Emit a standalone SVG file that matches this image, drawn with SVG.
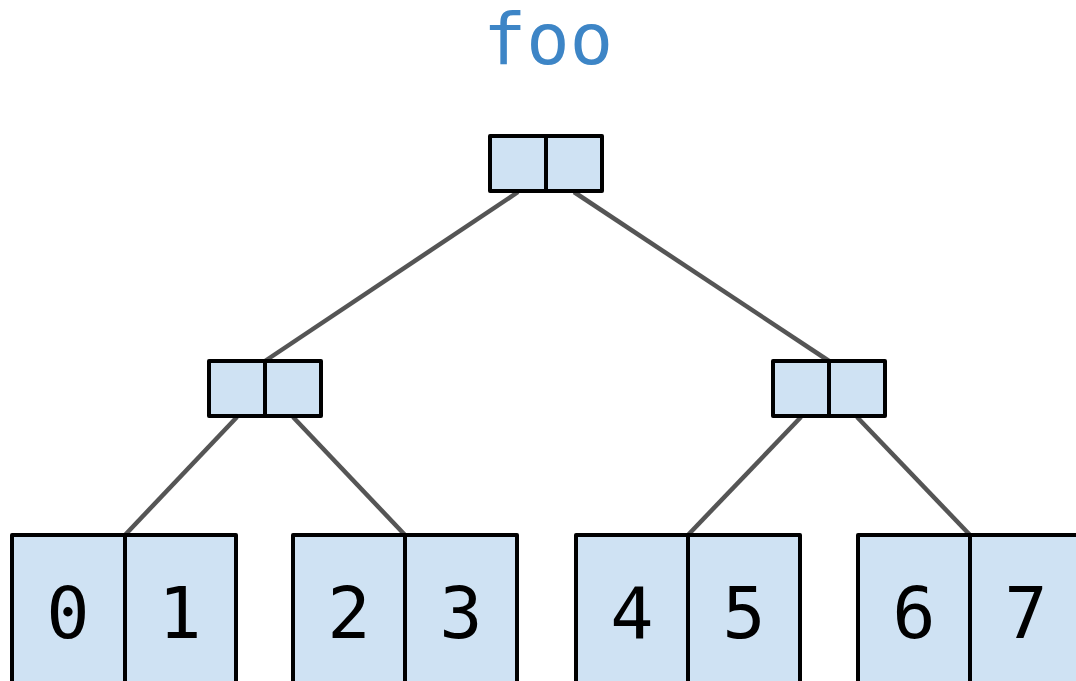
<svg xmlns="http://www.w3.org/2000/svg" width="1076" height="681" viewBox="0 0 1076 681">
<style>
.cell{fill:#cfe2f3;stroke:#000;stroke-width:4;stroke-linejoin:round}
.edge{stroke:#555;stroke-width:4.5;fill:none}
.lbl{font-family:"DejaVu Sans Mono",monospace;font-size:72px;fill:#000;text-anchor:middle}
.title{font-family:"DejaVu Sans Mono",monospace;font-size:72px;fill:#3d85c6;text-anchor:middle}
</style>
<rect width="1076" height="681" fill="#fff"/>
<text class="title" x="548" y="64">foo</text>
<g id="connectors">
<line class="edge" x1="518" y1="192" x2="265" y2="361"/>
<line class="edge" x1="574" y1="192" x2="829" y2="361"/>
<line class="edge" x1="237" y1="417" x2="125" y2="535"/>
<line class="edge" x1="293" y1="417" x2="405" y2="535"/>
<line class="edge" x1="801" y1="417" x2="688" y2="535"/>
<line class="edge" x1="857" y1="417" x2="970" y2="535"/>
</g>
<g id="root">
<rect class="cell" x="490" y="136" width="56" height="55"/>
<rect class="cell" x="546" y="136" width="56" height="55"/>
</g>
<g id="mid-left">
<rect class="cell" x="209" y="361" width="56" height="55"/>
<rect class="cell" x="265" y="361" width="56" height="55"/>
</g>
<g id="mid-right">
<rect class="cell" x="773" y="361" width="56" height="55"/>
<rect class="cell" x="829" y="361" width="56" height="55"/>
</g>
<g id="leaf-01">
<rect class="cell" x="12" y="535" width="113" height="160"/>
<rect class="cell" x="125" y="535" width="111" height="160"/>
<text class="lbl" x="68" y="638">0</text>
<text class="lbl" x="180" y="638">1</text>
</g>
<g id="leaf-23">
<rect class="cell" x="293" y="535" width="112" height="160"/>
<rect class="cell" x="405" y="535" width="112" height="160"/>
<text class="lbl" x="349" y="638">2</text>
<text class="lbl" x="461" y="638">3</text>
</g>
<g id="leaf-45">
<rect class="cell" x="576" y="535" width="112" height="160"/>
<rect class="cell" x="688" y="535" width="112" height="160"/>
<text class="lbl" x="632" y="638">4</text>
<text class="lbl" x="744" y="638">5</text>
</g>
<g id="leaf-67">
<rect class="cell" x="858" y="535" width="112" height="160"/>
<rect class="cell" x="970" y="535" width="112" height="160"/>
<text class="lbl" x="914" y="638">6</text>
<text class="lbl" x="1026" y="638">7</text>
</g>
</svg>
